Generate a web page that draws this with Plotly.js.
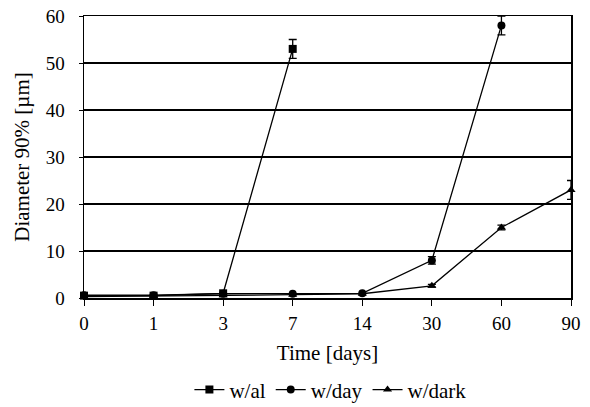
<!DOCTYPE html>
<html>
<head>
<meta charset="utf-8">
<script src="https://cdn.plot.ly/plotly-3.0.1.min.js"></script>
<style>html,body{margin:0;padding:0;background:#fff;}#chart{width:590px;height:407px;}</style>
</head>
<body>
<div id="chart"></div>
<script>
var categories = ["0", "1", "3", "7", "14", "30", "60", "90"];
var alValues   = [0.5, 0.5, 1.0, 53, null, null, null, null];
var alErrors   = [0, 0, 0, 2, 0, 0, 0, 0];
var dayValues  = [0.6, 0.6, 0.9, 0.9, 1.0, 8, 58, null];
var dayErrors  = [0, 0, 0, 0, 0, 0.8, 2, 0];
var darkValues = [0.3, 0.4, 0.6, 0.7, 0.9, 2.6, 15, 23];
var darkErrors = [0, 0, 0, 0, 0, 0.3, 0.5, 2];
var yTicks = [0, 10, 20, 30, 40, 50, 60];

var font = "Liberation Serif";
function series(name, vals, errs, symbol) {
  return {
    type: 'scatter', mode: 'lines+markers', name: name,
    x: categories, y: vals, connectgaps: false,
    line: {color: '#000', width: 1.3},
    marker: {symbol: symbol, size: 8, color: '#000'},
    error_y: {type: 'data', array: errs, visible: true, color: '#000', thickness: 1.3, width: 4},
    cliponaxis: false
  };
}
var data = [
  series('w/al', alValues, alErrors, 'square'),
  series('w/day', dayValues, dayErrors, 'circle'),
  series('w/dark', darkValues, darkErrors, 'triangle-up')
];
var layout = {
  width: 590, height: 407,
  margin: {l: 84, r: 19, t: 16, b: 109},
  paper_bgcolor: '#fff', plot_bgcolor: '#fff',
  font: {family: font, size: 19, color: '#000'},
  showlegend: true,
  legend: {orientation: 'h', xref: 'container', x: 0.56, xanchor: 'center',
           yref: 'container', y: 0.042, yanchor: 'middle',
           font: {family: font, size: 21, color: '#000'}, itemwidth: 30, tracegroupgap: 0},
  xaxis: {
    type: 'category', range: [0, 7], categoryorder: 'array', categoryarray: categories,
    showgrid: false, zeroline: false, showline: true, linecolor: '#000', linewidth: 1.5, mirror: true,
    ticks: 'outside', ticklen: 6, tickcolor: '#000', tickwidth: 1,
    ticklabelstandoff: 2,
    tickfont: {family: font, size: 19, color: '#000'},
    title: {text: 'Time [days]', font: {family: font, size: 21, color: '#000'}, standoff: 12}
  },
  yaxis: {
    range: [0, 60], tickvals: yTicks, ticktext: yTicks.map(String),
    showgrid: true, gridcolor: '#000', gridwidth: 1.5, zeroline: false,
    showline: true, linecolor: '#000', linewidth: 1.5, mirror: true,
    ticks: 'outside', ticklen: 4, tickcolor: '#000',
    ticklabelstandoff: 10,
    tickfont: {family: font, size: 19, color: '#000'},
    title: {text: 'Diameter 90% [µm]', font: {family: font, size: 21, color: '#000'}, standoff: 10}
  }
};
Plotly.newPlot('chart', data, layout, {staticPlot: true, displayModeBar: false});
</script>
</body>
</html>
